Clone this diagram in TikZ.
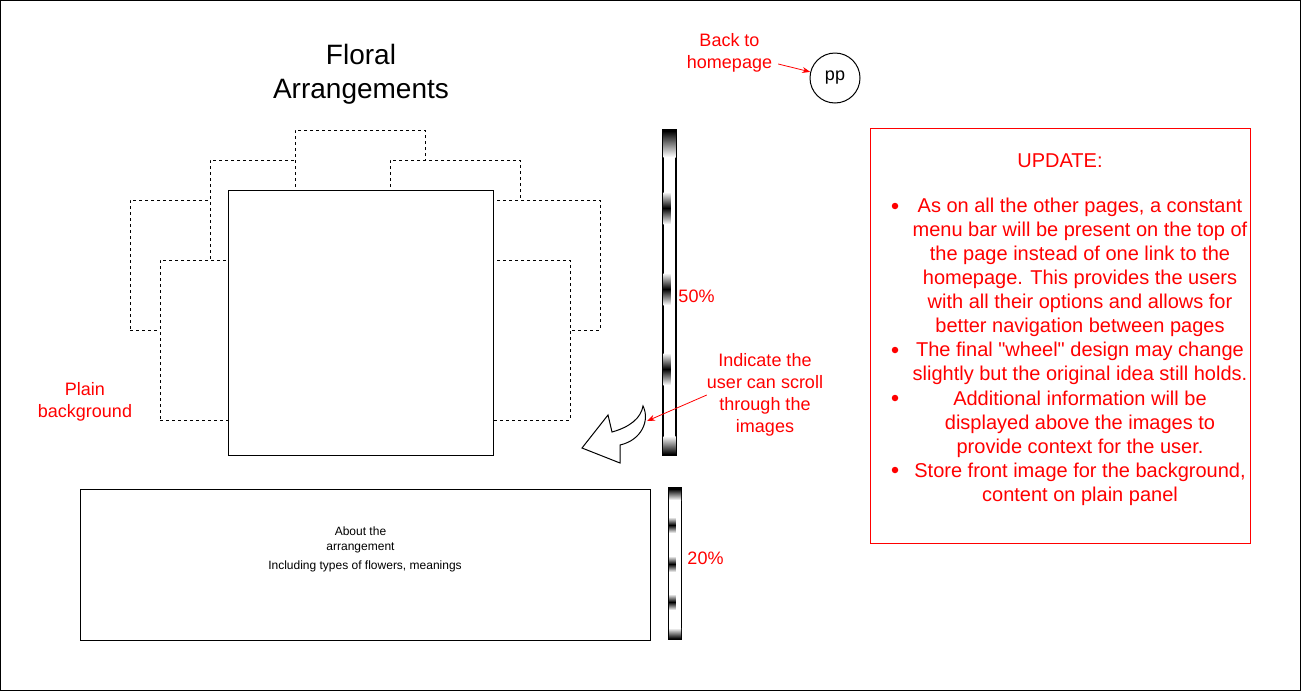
\documentclass[tikz,border=0pt]{standalone}
\usepackage{fontspec}
\setmainfont{Liberation Sans}
\usetikzlibrary{arrows.meta,positioning}
\definecolor{note}{HTML}{FF0000}
\tikzset{wfbox/.style={draw,line width=1pt,fill=white,inner sep=0pt},wfghost/.style={draw,line width=1pt,dash pattern=on 3pt off 3pt,fill=white,inner sep=0pt,minimum width=130,minimum height=130},wfwheel/.style={draw,line width=1.5pt,fill=white,inner sep=0pt,minimum width=13},wfnote/.style={text=note,font=\fontsize{18}{22}\selectfont,align=center,inner sep=0pt},wfupd/.style={text=note,font=\fontsize{20}{24}\selectfont,align=center,inner sep=0pt},wfdot/.style={circle,fill=note,inner sep=0pt,minimum size=6.5pt},wfarr/.style={-{Stealth[length=8pt,width=6pt]},draw=note,line width=0.8pt},wfblob/.style={top color=white,bottom color=white,middle color=black},wfsmall/.style={font=\fontsize{12}{14.4}\selectfont,align=center,inner sep=0pt}}

\begin{document}
\begin{tikzpicture}[x=1pt,y=-1pt]
\useasboundingbox (0,0) rectangle (1301,691);
\draw[line width=1pt] (0.5,0.5) rectangle (1300.5,690.5);
\node[font=\fontsize{28}{34}\selectfont,align=center,inner sep=0pt] (title) at (361,74) {Floral\\Arrangements};
\node[wfnote] (back) at (729.5,53) {Back to\\homepage};
\node[draw,circle,line width=1pt,minimum size=50,inner sep=0pt,font=\fontsize{18}{22}\selectfont] (pp) at (835,78) {pp};
\draw[wfarr] ([shift={(6,11)}]back.east) -- (pp);
\node[wfghost] (farleft) at (195,265) {};
\node[wfghost] (upleft) at (275,225) {};
\node[wfghost] (ghosttop) at (360,195) {};
\node[wfghost] (upright) at (455,225) {};
\node[wfghost] (farright) at (535,265) {};
\node[wfghost,minimum height=160] (lowleft) at (225,340) {};
\node[wfghost,minimum height=160] (lowright) at (505,340) {};
\node[wfbox,minimum width=265,minimum height=265] (front) at (360.5,322.5) {};
\node[wfnote] (plain) at (85,402) {Plain\\background};
\node[wfwheel,minimum height=325] (wheelimg) at (669.5,292.5) {};
\foreach \yc in {208,289,369} \shade[wfblob] (663.5,\yc-16) rectangle (670.5,\yc+16);
\shade[top color=black,bottom color=white] (663.5,131) rectangle (675.5,157);
\shade[top color=white,bottom color=black] (663.5,436) rectangle (675.5,454);
\node[wfnote] (pct50) at (696.5,296) {50\%};
\draw[line width=1pt,fill=white] (582,448) -- (608,415) -- (612,432) .. controls (630,427) and (641,418) .. (643,406) .. controls (650,420) and (642,440) .. (620,445) -- (620,463) -- cycle;
\node[wfnote] (scroll) at (765,395) {Indicate the\\user can scroll\\through the\\images};
\coordinate (scrolltip) at (647,421);
\draw[wfarr] (scroll.west) -- (scrolltip);
\node[wfbox,minimum width=570,minimum height=151] (about) at (365,564.5) {};
\node[wfsmall] (abouthead) at (360.5,540) {About the\\arrangement};
\node[wfsmall] (aboutsub) at (365,566) {Including types of flowers, meanings};
\node[wfwheel,minimum height=151] (wheeltxt) at (675,563.5) {};
\foreach \yc in {525,564,602} \shade[wfblob] (669,\yc-8) rectangle (675.5,\yc+8);
\shade[top color=black,bottom color=white] (669,489) rectangle (681,500);
\shade[top color=white,bottom color=black] (669,628) rectangle (681,638.5);
\node[wfnote] (pct20) at (705.5,558) {20\%};
\node[draw=note,line width=1pt,minimum width=380,minimum height=415,inner sep=0pt] (update) at (1060.5,335.5) {};
\node[wfupd] (updhead) at (1060,161) {UPDATE:};
\node[wfupd,anchor=north] (item1) at (1080,195.4) {\strut As on all the other pages, a constant\\menu bar will be present on the top of\\the page instead of one link to the\\homepage. This provides the users\\with all their options and allows for\\better navigation between pages\strut};
\node[wfupd,below=0pt of item1] (item2) {\strut The final \textquotedbl wheel\textquotedbl{} design may change\\slightly but the original idea still holds.\strut};
\node[wfupd,below=0pt of item2] (item3) {\strut Additional information will be\\displayed above the images to\\provide context for the user.\strut};
\node[wfupd,below=0pt of item3] (item4) {\strut Store front image for the background,\\content on plain panel\strut};
\node[wfdot] (dot1) at (895,206) {};
\node[wfdot] (dot2) at (895,350) {};
\node[wfdot] (dot3) at (895,398) {};
\node[wfdot] (dot4) at (895,470) {};
\end{tikzpicture}
\end{document}
